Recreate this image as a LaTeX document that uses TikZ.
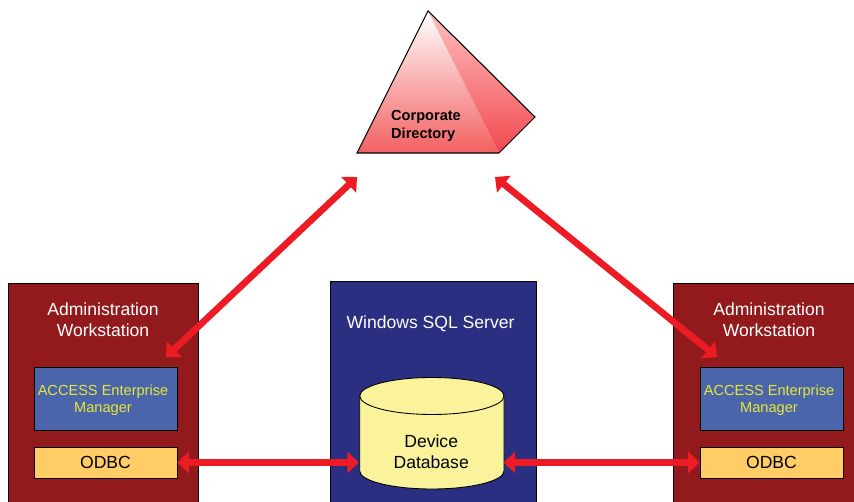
\documentclass[tikz,border=0pt]{standalone}
\usepackage{fontspec}
\setmainfont{Liberation Sans}
\usetikzlibrary{arrows.meta}
\definecolor{admred}{RGB}{146,26,29}
\definecolor{srvblue}{RGB}{43,47,130}
\definecolor{mgrblue}{RGB}{74,101,172}
\definecolor{odbcgold}{RGB}{255,204,102}
\definecolor{dbyellow}{RGB}{251,243,155}
\definecolor{lnkred}{RGB}{237,28,36}
\definecolor{mgryellow}{RGB}{232,232,50}
\tikzset{
	panel/.style={draw=black,line width=0.5pt,anchor=north west,inner sep=0pt},
	mgrbox/.style={draw=black,line width=0.5pt,fill=mgrblue,minimum width=2.86cm,minimum height=1.26cm,inner sep=0pt},
	mgrtext/.style={text=mgryellow,align=center,inner sep=0pt,font=\fontsize{8.3}{9.8}\selectfont},
	odbcbox/.style={draw=black,line width=0.5pt,fill=odbcgold,minimum width=2.86cm,minimum height=0.62cm,inner sep=0pt,font=\fontsize{10}{12}\selectfont},
	title/.style={text=white,align=center,inner sep=0pt,font=\fontsize{10}{11.9}\selectfont},
	lnk/.style={lnkred,line width=3.8pt,{Triangle[length=6.5pt,width=12pt]}-{Triangle[length=6.5pt,width=12pt]}}
}
\begin{document}
\begin{tikzpicture}[x=0.02cm,y=-0.02cm]
	\useasboundingbox (0,0) rectangle (854,502);
	\clip (0,0) rectangle (854,502);
	% panels
	\node[panel,fill=admred,minimum width=3.8cm,minimum height=4.5cm] (admleft) at (8,283) {};
	\node[panel,fill=srvblue,minimum width=4.12cm,minimum height=4.54cm] (server) at (330,281) {};
	\node[panel,fill=admred,minimum width=3.8cm,minimum height=4.5cm] (admright) at (673,283) {};
	\node[title] (titleleft) at (103,319.5) {Administration\\Workstation};
	\node[title] (titleright) at (769,319.5) {Administration\\Workstation};
	\node[title] (titleserver) at (430.5,324) {Windows SQL Server};
	\node[mgrbox] (mgrleft) at (105.5,398.5) {};
	\node[mgrbox] (mgrright) at (771.5,398.5) {};
	\node[mgrtext] (textleft) at (103,400) {ACCESS Enterprise\\Manager};
	\node[mgrtext] (textright) at (769,400) {ACCESS Enterprise\\Manager};
	\node[odbcbox] (odbcleft) at (105.5,462.5) {ODBC};
	\node[odbcbox] (odbcright) at (771.5,462.5) {ODBC};
	% database
	\draw[line width=0.5pt,fill=dbyellow] (359.7,396) arc(180:360:72.15 and 18.5) -- (504,471) arc(0:180:72.15 and 18) -- cycle;
	\draw[line width=0.5pt] (359.7,396) arc(180:0:72.15 and 18.5);
	\node[align=center,inner sep=0pt,minimum width=2.886cm,font=\fontsize{10}{11.9}\selectfont] (db) at (431.2,451.5) {Device\\Database};
	% pyramid
	\shade[top color=white,bottom color=red!60!white!95!black] (428,11) -- (357,153) -- (499,153) -- cycle;
	\shade[top color=red!25!white,bottom color=lnkred!80!white] (428,11) -- (535,117) -- (499,153) -- cycle;
	\draw[line width=0.6pt] (428,11) -- (357,153) -- (499,153) -- (535,117) -- cycle;
	\node[align=left,inner sep=0pt,font=\fontsize{8.3}{10.2}\selectfont\bfseries] (directory) at (426,125.5) {Corporate\\Directory};
	% links
	\coordinate (dirleft) at (357,177);
	\coordinate (dirright) at (495,177);
	\coordinate (wsleft) at (166,357);
	\coordinate (wsright) at (717,357);
	\draw[lnk] (dirleft) -- (wsleft);
	\draw[lnk] (dirright) -- (wsright);
	\draw[lnk] (odbcleft.east) -- (odbcleft.east -| db.west);
	\draw[lnk] (odbcright.west) -- (odbcright.west -| db.east);
\end{tikzpicture}
\end{document}
